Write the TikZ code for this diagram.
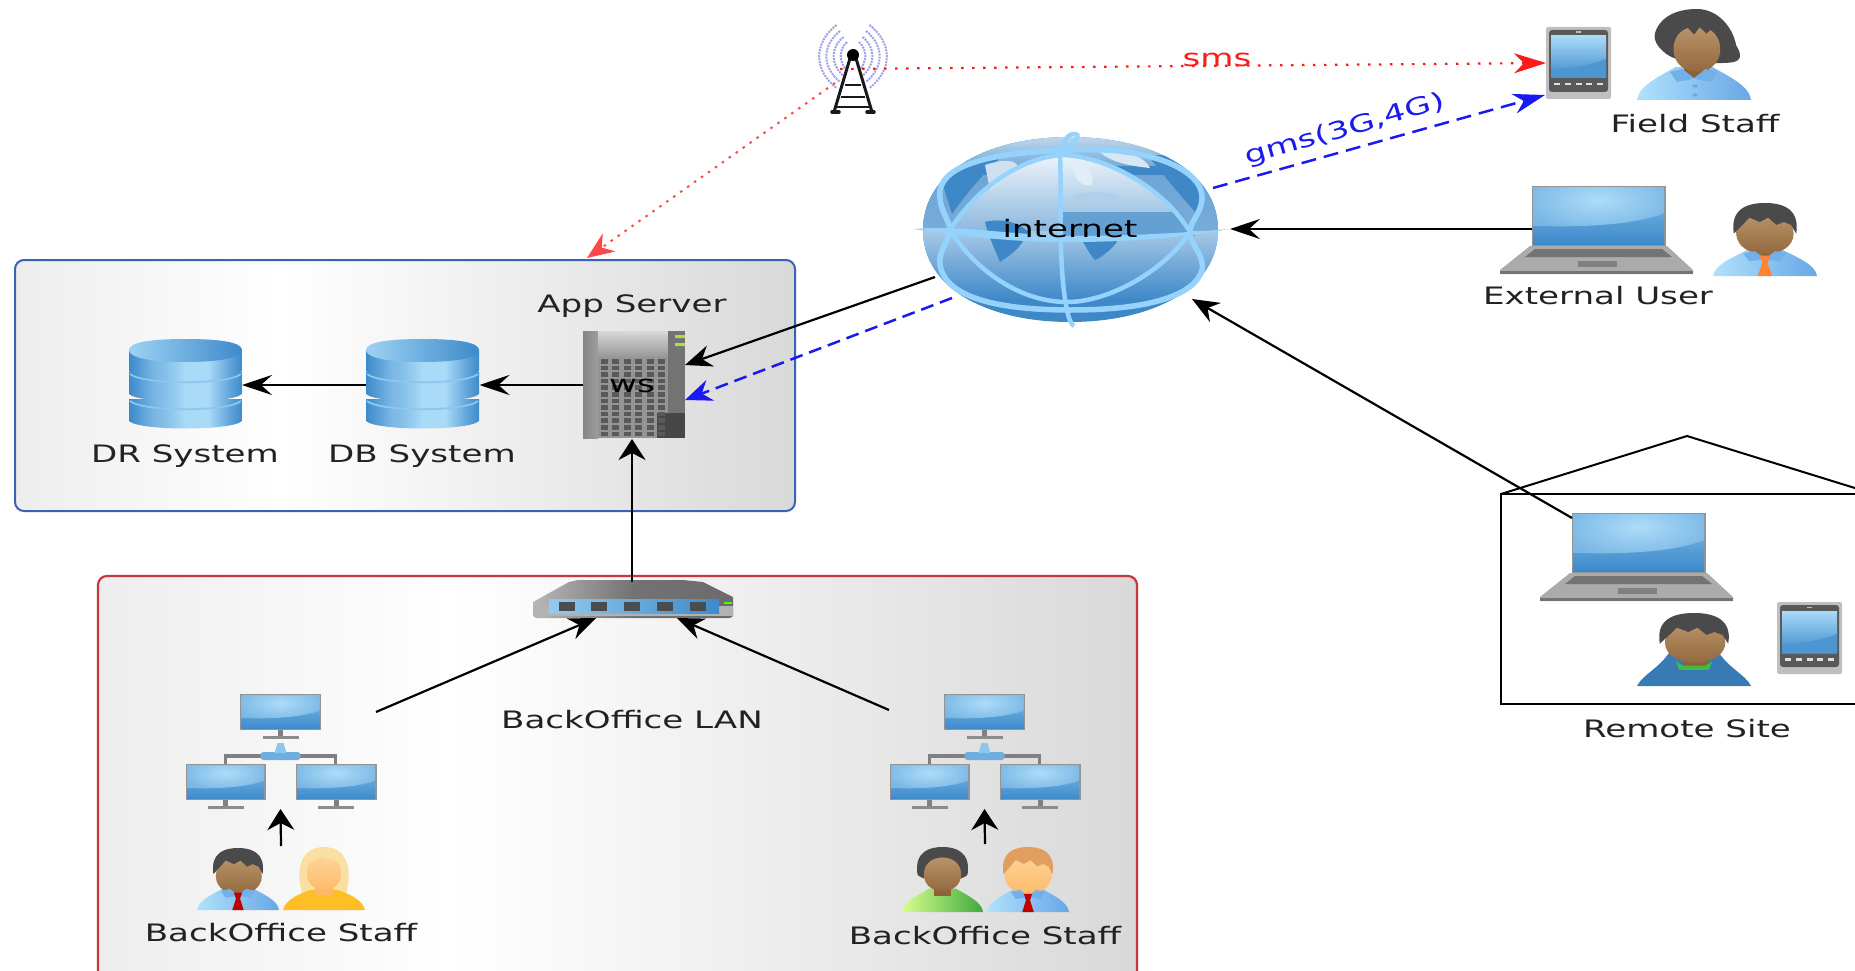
\documentclass[tikz,border=0pt]{standalone}
\usepackage{fontspec}
\setmainfont[FakeStretch=1.42]{DejaVu Sans}
\usetikzlibrary{arrows.meta}
\definecolor{scrTop}{HTML}{A9DAF8}
\definecolor{scrBot}{HTML}{3D8ACB}
\definecolor{hairDark}{HTML}{4A4A4A}
\definecolor{skinDT}{HTML}{BE9A70}
\definecolor{skinDB}{HTML}{8E6238}
\definecolor{skinLT}{HTML}{FFD79C}
\definecolor{skinLB}{HTML}{FDB765}
\definecolor{shirtL}{HTML}{B0E2FC}
\definecolor{shirtR}{HTML}{68A6E6}
\definecolor{gridBlue}{HTML}{96D3FC}
\definecolor{oceanBlue}{HTML}{3E88C8}
\definecolor{txtDark}{HTML}{222222}
\definecolor{blueEdge}{HTML}{3A62B0}
\definecolor{redEdge}{HTML}{C8363E}
\definecolor{netRed}{HTML}{FF1A1A}
\definecolor{netBlue}{HTML}{1A1AF0}
\definecolor{blondeHair}{HTML}{F9E0A2}
\definecolor{waveBlue}{HTML}{A0A0EA}
\pgfdeclarehorizontalshading{boxshade}{100bp}{color(0bp)=(black!7); color(25bp)=(black!7); color(42bp)=(white); color(75bp)=(black!15); color(100bp)=(black!15)}
\pgfdeclarehorizontalshading{cylshade}{100bp}{color(0bp)=(scrBot); color(25bp)=(scrBot); color(36bp)=(scrTop!55!scrBot); color(42bp)=(scrTop!70!scrBot); color(50bp)=(scrTop); color(60bp)=(scrTop); color(70bp)=(scrBot!70!scrTop); color(75bp)=(scrBot); color(100bp)=(scrBot)}
\pgfdeclarehorizontalshading{swshade}{100bp}{color(0bp)=(black!28); color(25bp)=(black!28); color(50bp)=(black!55); color(75bp)=(black!58); color(100bp)=(black!58)}
\tikzset{
  iconbox/.style={inner sep=0pt,outer sep=0pt,draw=none},
  lbl/.style={inner sep=0pt,outer sep=0pt,anchor=base,text=txtDark,font=\fontsize{24}{27}\selectfont},
  conn/.style={draw=black,line width=2.2pt,-{Stealth[length=30pt,width=20pt,inset=11pt]}},
  connV/.style={draw=black,line width=2.2pt,-{Stealth[length=21pt,width=27pt,inset=7pt]}},
  connD/.style={draw=black,line width=2.2pt,-{Stealth[length=27pt,width=22pt,inset=9pt]}},
  smsline/.style={draw=netRed,line width=2.2pt,dash pattern=on 2.5pt off 8.5pt,-{Stealth[length=32pt,width=20pt,inset=10pt]}},
  gmsline/.style={draw=netBlue,line width=2.5pt,dash pattern=on 15pt off 8pt,-{Stealth[length=32pt,width=20pt,inset=10pt]}},
  smsD/.style={draw=netRed!80!white,line width=2pt,dash pattern=on 2.5pt off 6pt,-{Stealth[length=27pt,width=22pt,inset=9pt]}},
  gmsD/.style={draw=netBlue,line width=2.5pt,dash pattern=on 13pt off 7pt,-{Stealth[length=27pt,width=22pt,inset=9pt]}},
}
% --- icon helpers, all in pixel units
\newcommand\screenAt[4]{% x1 y1 x2 y2
  \fill[black!42] (#1-1.5,#2-1.5) rectangle (#3+1.5,#4+1.5);
  \shade[top color=scrTop!65!scrBot,bottom color=scrBot] (#1,#2) rectangle (#3,#4);
  \begin{scope}
    \clip (#1,#2) -- (#3,#2) -- (#3,{#2+0.46*(#4-#2)}) .. controls ({#1+0.8*(#3-#1)},{#2+0.64*(#4-#2)}) and ({#1+0.45*(#3-#1)},{#2+0.72*(#4-#2)}) .. (#1,{#2+0.68*(#4-#2)}) -- cycle;
    \shade[inner color=scrTop!95!white,outer color=scrTop!55!scrBot] ({#1-0.1*(#3-#1)},{#2-0.35*(#4-#2)}) rectangle ({#3+0.1*(#3-#1)},{#2+0.8*(#4-#2)});
  \end{scope}
}
\newcommand\laptopAt[2]{%
  \begin{scope}[shift={(#1,#2)}]
    \screenAt{33}{1}{164}{58}
    \fill[black!33] (30,60) -- (167,60) -- (193,84) -- (193,88) -- (0,88) -- (0,84) -- cycle;
    \fill[black!55] (0,84.5) rectangle (193,88);
    \fill[black!55] (35,63) -- (162,63) -- (172,71) -- (25,71) -- cycle;
    \fill[black!50] (78,75) rectangle (117,81);
  \end{scope}}
\newcommand\tabletAt[2]{%
  \begin{scope}[shift={(#1,#2)}]
    \fill[black!25,rounded corners=2pt] (0,0) rectangle (65,72);
    \fill[black!65,rounded corners=3pt] (3,3) rectangle (62,65);
    \shade[top color=scrTop,bottom color=scrBot] (5,9) rectangle (60,51);
    \fill[scrBot!85!scrTop] (5,42) .. controls (25,42) and (45,38) .. (60,32) -- (60,51) -- (5,51) -- cycle;
    \foreach \bx in {11,22,32.5,43,54}{\fill[black!12] (\bx-3,56) rectangle (\bx+3,58.5);}
    \fill[black!25] (30,4.5) rectangle (35,6);
  \end{scope}}
\newcommand\monitorAt[3]{% left top width
  \begin{scope}[shift={(#1,#2)}]
    \screenAt{1.5}{1.5}{#3-1.5}{34.5}
    \fill[black!50] (#3/2-2.5,36) rectangle (#3/2+2.5,43);
    \fill[black!45] (#3/2-18,42) rectangle (#3/2+18,45);
  \end{scope}}
\newcommand\lanAt[1]{% centre x of the icon; top monitor at y 694
  \begin{scope}[shift={(#1,0)}]
    \draw[black!50,line width=3.5pt] (-55,764) -- (-55,756) -- (55,756) -- (55,764);
    \monitorAt{-40.5}{694}{81}
    \monitorAt{-95}{764}{80}
    \monitorAt{15}{764}{81}
    \fill[scrBot!55!scrTop,rounded corners=3pt] (-20,752) rectangle (20,760);
    \fill[scrBot!25!scrTop] (-3,743) -- (3,743) -- (6,753) -- (-6,753) -- cycle;
  \end{scope}}
\newcommand\dbAt[2]{% left top
  \begin{scope}[shift={(#1,#2)}]
    \foreach \ty in {54,27,4}{
      \shade[shading=cylshade] (0,\ty+6) -- (0,\ty+28) .. controls (10,\ty+38) and (103,\ty+38) .. (113,\ty+28) -- (113,\ty+6) -- cycle;
      \draw[scrTop!75!scrBot,line width=1.8pt] (1,\ty+8) .. controls (14,\ty+19) and (99,\ty+19) .. (112,\ty+8);
    }
    \shade[left color=scrTop!90!scrBot,right color=scrBot] (56.5,0) .. controls (90,0) and (113,3) .. (113,11) .. controls (113,19) and (90,23) .. (56.5,23) .. controls (23,23) and (0,19) .. (0,11) .. controls (0,3) and (23,0) .. (56.5,0) -- cycle;
  \end{scope}}
\newcommand\personAt[5]{% left-right centre, top, half width, height, content
  \begin{scope}[shift={(#1,#2)},xscale=#3,yscale=#4]#5\end{scope}}
\newcommand\bodyShape[2]{%
  \shade[left color=#1,right color=#2] (-1,1) .. controls (-.97,.84) and (-.6,.74) .. (-.33,.64) -- (.33,.64) .. controls (.6,.74) and (.97,.84) .. (1,1) -- cycle;}
\newcommand\collarShape{%
  \fill[shirtR!85!shirtL] (-.42,.69) -- (-.2,.66) -- (0,.76) -- (.2,.66) -- (.42,.69) -- (.3,.8) -- (.1,.78) -- (0,.76) -- (-.1,.78) -- (-.3,.8) -- cycle;}
\newcommand\neckFace[6]{% cx cy rx ry top bottom
  \fill[#6] (#1-.22,#2+.1) rectangle (#1+.22,.76);
  \shade[top color=#5,bottom color=#6] (#1-#3,#2) .. controls (#1-#3,{#2-#4*1.33}) and (#1+#3,{#2-#4*1.33}) .. (#1+#3,#2) .. controls (#1+#3,{#2+#4*1.33}) and (#1-#3,{#2+#4*1.33}) .. (#1-#3,#2) -- cycle;}
\newcommand\hairCap[1]{%
  \fill[#1] (-.6,.42) .. controls (-.68,.06) and (-.3,0) .. (0,0) .. controls (.3,0) and (.68,.06) .. (.6,.42) -- (.5,.3) -- (.36,.26) -- (.22,.3) -- (.06,.2) -- (-.1,.26) -- (-.3,.2) -- (-.46,.32) -- cycle;}
\newcommand\tieShape[1]{%
  \fill[#1] (-.1,.72) -- (.1,.72) -- (.05,.82) -- (.14,1) -- (-.14,1) -- (-.05,.82) -- cycle;}
\begin{document}
\begin{tikzpicture}[x=1pt,y=-1pt]
\useasboundingbox (0,0) rectangle (1855,971);
\clip (0,0) rectangle (1855,971);
\fill[white] (0,0) rectangle (1855,971);

% containers
\path[shading=boxshade,draw=blueEdge,line width=2pt,rounded corners=9pt] (15,260) rectangle (795,511);
\path[shading=boxshade,draw=redEdge,line width=2.2pt,rounded corners=9pt] (98,576) rectangle (1137,1010);
\node[iconbox,minimum width=780pt,minimum height=251pt] (appzone) at (405,385.5) {};
\node[iconbox,minimum width=1039pt,minimum height=395pt] (lanzone) at (617.5,773.5) {};

% remote site house
\draw[black,line width=2.2pt] (1900,494) -- (1501,494) -- (1501,704) -- (1900,704);
\draw[black,line width=2pt] (1501,494) -- (1687,436) -- (1900,502);

% ----- tower
\begin{scope}[shift={(853,55)}]
  \foreach \r/\w in {12/13,19/18,26/24,33/30}{
    \draw[waveBlue,line width=2pt,dash pattern=on 2pt off 1pt] (-\r*0.5,-\w) .. controls (-\r*1.2,-\w*0.4) and (-\r*1.2,\w*0.5) .. (-\r*0.5,\w+3);
    \draw[waveBlue,line width=2pt,dash pattern=on 2pt off 1pt] (\r*0.5,-\w) .. controls (\r*1.2,-\w*0.4) and (\r*1.2,\w*0.5) .. (\r*0.5,\w+3);
  }
  \draw[black!90,line width=3pt] (-19,57) -- (-2,0) (19,57) -- (2,0);
  \draw[black!90,line width=2.6pt] (-8,30) -- (8,30) (-12,42) -- (12,42) (-17,52) -- (17,52);
  \draw[black!90,line width=3.5pt,line cap=round] (-21,57) -- (-14,57) (14,57) -- (21,57);
  \fill[black] (0,0) circle [radius=6];
\end{scope}
\node[iconbox,minimum width=65pt,minimum height=90pt] (tower) at (854,69) {};
\coordinate (towerE) at (840,69);
\coordinate (towerW) at (835,83);

% ----- globe
\begin{scope}
  \path[clip] (1070,137) .. controls (1150,137) and (1218,170) .. (1218,230) .. controls (1218,290) and (1150,322) .. (1070,322) .. controls (990,322) and (923,290) .. (923,230) .. controls (923,170) and (990,137) .. (1070,137) -- cycle;
  \fill[oceanBlue] (900,130) rectangle (1240,330);
  \shade[top color=oceanBlue!45!white,bottom color=oceanBlue] (900,230) rectangle (1240,300);
  \shade[top color=oceanBlue!75!white,bottom color=oceanBlue!70!white] (900,175) rectangle (1240,230);
  \shade[top color=white!75!oceanBlue,bottom color=oceanBlue!70!white] (960,130) rectangle (1190,165);
  \shade[top color=white!90!oceanBlue,bottom color=oceanBlue!60!white] (950,230) .. controls (975,190) and (1020,157) .. (1063,155) .. controls (1110,157) and (1165,190) .. (1190,232) -- cycle;
  % seas at the corners
  \fill[oceanBlue] (1148,156) .. controls (1180,150) and (1206,175) .. (1198,215) .. controls (1175,190) and (1160,170) .. (1148,156) -- cycle;
  \fill[oceanBlue] (942,182) .. controls (960,160) and (985,154) .. (1002,156) .. controls (985,172) and (965,195) .. (952,214) -- cycle;
  % land and sea details
  \fill[white!75!oceanBlue] (985,165) .. controls (1005,158) and (1020,160) .. (1018,170) .. controls (1005,176) and (1000,188) .. (990,190) -- cycle;
  \fill[white!85!oceanBlue] (1072,160) .. controls (1085,163) and (1095,170) .. (1092,185) .. controls (1080,187) and (1072,178) .. (1072,160) -- cycle;
  \fill[white!60!oceanBlue] (1070,196) .. controls (1090,190) and (1115,190) .. (1125,200) .. controls (1105,206) and (1085,205) .. (1070,196) -- cycle;
  \fill[white!80!oceanBlue] (1100,152) .. controls (1130,150) and (1145,158) .. (1150,168) .. controls (1130,166) and (1110,162) .. (1100,152) -- cycle;
  \fill[oceanBlue] (985,222) .. controls (1000,218) and (1020,222) .. (1028,232) .. controls (1020,250) and (1010,255) .. (1000,262) .. controls (995,250) and (988,235) .. (985,222) -- cycle;
  \fill[oceanBlue] (1082,240) -- (1118,240) .. controls (1112,250) and (1100,258) .. (1095,260) .. controls (1090,255) and (1085,245) .. (1082,240) -- cycle;
  \fill[oceanBlue!80!white] (1062,212) -- (1180,212) -- (1195,236) -- (1062,236) -- cycle;
\end{scope}
\begin{scope}[gridBlue,line width=5.5pt]
  \draw (1071,150) .. controls (1150,146) and (1205,170) .. (1202,200) .. controls (1200,215) and (1190,222) .. (1190,232) .. controls (1190,245) and (1205,255) .. (1202,270) .. controls (1195,295) and (1150,310) .. (1071,310) .. controls (990,310) and (945,295) .. (940,265) .. controls (938,250) and (950,240) .. (950,230) .. controls (950,220) and (938,210) .. (940,190) .. controls (945,165) and (990,152) .. (1071,150) -- cycle;
\end{scope}
\begin{scope}[gridBlue,line width=4.5pt]
  \draw (950,230) .. controls (975,190) and (1020,157) .. (1063,155) .. controls (1110,157) and (1165,190) .. (1190,232) .. controls (1165,270) and (1110,302) .. (1067,302) .. controls (1020,302) and (975,270) .. (950,230) -- cycle;
  \draw (1060,155) .. controls (1062,200) and (1058,260) .. (1066,305) .. controls (1068,318) and (1072,326) .. (1074,326);
  \draw (1060,155) .. controls (1062,142) and (1068,133) .. (1075,134) .. controls (1080,134) and (1078,140) .. (1065,150);
\end{scope}
\fill[gridBlue] (913,229) .. controls (960,225) and (1000,234) .. (1070,236) .. controls (1130,236) and (1180,233) .. (1230,229) .. controls (1180,238) and (1130,242) .. (1070,242) .. controls (1000,242) and (960,235) .. (913,229) -- cycle;
\node[iconbox,minimum width=317pt,minimum height=196pt] (globe) at (1071.5,229) {};
\coordinate (globeSMS) at (1213,188);
\coordinate (globeOut) at (935,277);
\coordinate (globeGms) at (952,298);
\coordinate (globeSE) at (1192,299);

% ----- tablets
\tabletAt{1546}{27}
\node[iconbox,minimum width=65pt,minimum height=72pt] (fieldtab) at (1578.5,63) {};
\coordinate (fieldtabSW) at (1545,95);
\tabletAt{1777}{602}
\node[iconbox,minimum width=65pt,minimum height=72pt] (remotetab) at (1809.5,638) {};

% ----- laptops
\laptopAt{1500}{186}
\node[iconbox,minimum width=193pt,minimum height=88pt] (extlaptop) at (1596.5,230) {};
\coordinate (extlaptopL) at (1532,229);
\laptopAt{1540}{513}
\node[iconbox,minimum width=193pt,minimum height=88pt] (remlaptop) at (1636.5,557) {};
\coordinate (remlaptopNW) at (1572,518);

% ----- people
% field staff (woman, bob)
\personAt{1694}{9}{57}{91}{%
  \fill[hairDark] (.05,0) .. controls (.42,0) and (.68,.2) .. (.74,.4) .. controls (.84,.5) and (.85,.58) .. (.62,.59) .. controls (.3,.6) and (-.3,.62) .. (-.55,.46) .. controls (-.76,.34) and (-.7,.25) .. (-.6,.16) .. controls (-.45,.04) and (-.2,0) .. (.05,0) -- cycle;
  \bodyShape{shirtL}{shirtR}
  \neckFace{.05}{.44}{.41}{.25}{skinDT}{skinDB}
  \collarShape
  \fill[hairDark] (-.38,.34) .. controls (-.42,.12) and (.5,.12) .. (.46,.32) -- (.34,.2) -- (.22,.27) -- (.1,.2) -- (0,.28) -- (-.12,.2) -- (-.25,.24) -- cycle;
  \fill[shirtR] (-.02,.83) rectangle (.06,.86) (-.02,.93) rectangle (.06,.96);
}
\node[iconbox,minimum width=114pt,minimum height=91pt] (fieldperson) at (1694,54.5) {};
% external user
\personAt{1765}{203}{52}{73}{%
  \bodyShape{shirtL}{shirtR}
  \neckFace{0}{.42}{.55}{.28}{skinDT}{skinDB}
  \collarShape
  \hairCap{hairDark}
  \tieShape{orange!80!red!80!white}
}
\node[iconbox,minimum width=104pt,minimum height=73pt] (extperson) at (1765,239.5) {};
% remote user (hoodie)
\personAt{1694}{613}{57}{73}{%
  \fill[oceanBlue!90!black] (-1,1) .. controls (-.9,.84) and (-.6,.76) .. (-.4,.5) -- (.4,.5) .. controls (.6,.76) and (.9,.84) .. (1,1) -- cycle;
  \neckFace{.02}{.4}{.53}{.28}{skinDT}{skinDB}
  \fill[green!65!black!75] (-.32,.66) -- (-.2,.72) -- (.2,.72) -- (.32,.66) -- (.26,.78) -- (-.26,.78) -- cycle;
  \hairCap{hairDark}
}
\node[iconbox,minimum width=114pt,minimum height=73pt] (remperson) at (1694,649.5) {};
% LAN left group
\lanAt{280.5}
\node[iconbox,minimum width=191pt,minimum height=113pt] (lanleft) at (281.5,750.5) {};
\coordinate (lanleftOut) at (376,712);
\coordinate (lanleftIn) at (280.5,809);
\personAt{238}{848}{41}{62}{%
  \bodyShape{shirtL}{shirtR}
  \neckFace{.02}{.45}{.56}{.3}{skinDT}{skinDB}
  \collarShape
  \hairCap{hairDark}
  \tieShape{red!75!black}
}
\personAt{324}{847}{41}{63}{%
  \fill[blondeHair] (-.5,.8) .. controls (-.72,.4) and (-.6,0) .. (0,0) .. controls (.6,0) and (.72,.4) .. (.5,.8) -- cycle;
  \fill[orange!60!yellow!85!white] (-1,1) .. controls (-.95,.84) and (-.6,.74) .. (-.33,.68) -- (.33,.68) .. controls (.6,.74) and (.95,.84) .. (1,1) -- cycle;
  \neckFace{0}{.42}{.42}{.26}{skinLT}{skinLB}
  \fill[blondeHair] (-.44,.28) .. controls (-.3,.05) and (.3,.05) .. (.44,.28) -- (.3,.16) -- (.08,.2) -- (-.06,.14) -- (-.25,.2) -- cycle;
}
\node[iconbox,minimum width=168pt,minimum height=63pt] (staffleft) at (281,878.5) {};
\coordinate (staffleftTop) at (281,846);
% LAN right group
\lanAt{984.5}
\node[iconbox,minimum width=191pt,minimum height=113pt] (lanright) at (985.5,750.5) {};
\coordinate (lanrightOut) at (889,710);
\coordinate (lanrightIn) at (984.5,809);
\personAt{942.5}{847}{40.5}{65}{%
  \fill[hairDark] (-.62,.42) .. controls (-.7,.06) and (-.3,0) .. (0,0) .. controls (.3,0) and (.7,.06) .. (.62,.42) .. controls (.5,.55) and (-.5,.55) .. (-.62,.42) -- cycle;
  \shade[left color=green!35!yellow!45!white,right color=green!55!black!75] (-1,1) .. controls (-.97,.84) and (-.6,.74) .. (-.33,.64) -- (.33,.64) .. controls (.6,.74) and (.97,.84) .. (1,1) -- cycle;
  \neckFace{0}{.42}{.46}{.26}{skinDT}{skinDB}
}
\personAt{1028}{847}{41}{65}{%
  \bodyShape{shirtL}{shirtR}
  \neckFace{0}{.42}{.58}{.3}{skinLT}{skinLB}
  \collarShape
  \hairCap{orange!35!brown!75!white}
  \tieShape{red!75!black}
}
\node[iconbox,minimum width=167pt,minimum height=65pt] (staffright) at (985.5,879.5) {};
\coordinate (staffrightTop) at (985,844);

% ----- databases
\dbAt{129}{339}
\node[iconbox,minimum width=113pt,minimum height=90pt] (dr) at (185.5,385) {};
\dbAt{366}{339}
\node[iconbox,minimum width=114pt,minimum height=90pt] (db) at (422.5,385) {};

% ----- server
\begin{scope}[shift={(583,331)}]
  \fill[black!42] (0,0) rectangle (102,107);
  \shade[left color=black!48,right color=black!38] (0,0) rectangle (15,107);
  \shade[top color=black!15,bottom color=black!42] (15,0) rectangle (85,27);
  \fill[black!55] (85,0) rectangle (102,107);
  \fill[black!72] (74,82) rectangle (102,107);
  \foreach \cx in {0,...,5}{\foreach \cy in {0,...,11}{
    \fill[black!65] ({18+\cx*11.4},{28+\cy*6.6}) rectangle ({25+\cx*11.4},{32.5+\cy*6.6});
  }}
  \fill[yellow!60!green!80!white] (92,4) rectangle (102,7) (92,12) rectangle (102,15);
\end{scope}
\node[iconbox,minimum width=102pt,minimum height=107pt] (server) at (634,384.5) {};
\coordinate (serverW) at (583,385);
\coordinate (serverS) at (632,439);
\coordinate (serverNE) at (685,365);
\coordinate (serverE) at (685,400);

% ----- switch
\begin{scope}[shift={(533,580)}]
  \shade[shading=swshade] (0,22) -- (36,2) -- (45,0) -- (150,0) -- (170,2) -- (200,17) -- (200,36) -- (197,38) -- (3,38) -- (0,36) -- cycle;
  \fill[black!30] (0,26) rectangle (200,36);
  \shade[left color=scrTop!80!scrBot,right color=scrBot] (16,19) rectangle (186,33);
  \foreach \px in {34,66,99,132,165}{\fill[black!70] (\px-8,21.5) rectangle (\px+8,31);}
  \fill[green!70!yellow] (191,22) rectangle (199,24);
\end{scope}
\node[iconbox,minimum width=200pt,minimum height=38pt] (switch) at (633,599) {};
\coordinate (switchTop) at (632,582);
\coordinate (switchBL) at (596,618);
\coordinate (switchBR) at (677,618);
\coordinate (appzoneTop) at (587,258);

% ----- connectors
\path[smsline,draw] (towerE) -- (fieldtab.west);
\path[smsD,draw] (towerW) -- (appzoneTop);
\path[gmsline,draw] (globeSMS) -- (fieldtabSW);
\path[conn,draw] (extlaptopL) -- (globe.east);
\path[connD,draw] (remlaptopNW) -- (globeSE);
\path[connD,draw] (globeOut) -- (serverNE);
\path[gmsD,draw] (globeGms) -- (serverE);
\path[conn,draw] (serverW) -- (db.east);
\path[conn,draw] (db.west) -- (dr.east);
\path[connV,draw] (switchTop) -- (serverS);
\path[connD,draw] (lanleftOut) -- (switchBL);
\path[connD,draw] (lanrightOut) -- (switchBR);
\path[connV,draw] (staffleftTop) -- (lanleftIn);
\path[connV,draw] (staffrightTop) -- (lanrightIn);

% ----- labels
\node[lbl,text=netRed] (smslabel) at (1217,67) {sms};
\node[lbl,text=netBlue,anchor=center,rotate=16] (gmslabel) at (1345,130) {gms(3G,4G)};
\node[lbl,text=black] (internetlabel) at (1070,237) {internet};
\node[lbl] (fieldlabel) at (1695,132) {Field Staff};
\node[lbl] (extlabel) at (1598,304) {External User};
\node[lbl] (remotelabel) at (1687,737) {Remote Site};
\node[lbl] (applabel) at (632,312) {App Server};
\node[lbl,text=black] (wslabel) at (632,392) {ws};
\node[lbl] (dblabel) at (422,462) {DB System};
\node[lbl] (drlabel) at (185,462) {DR System};
\node[lbl] (lanlabel) at (632,728) {BackOffice LAN};
\node[lbl] (stafflabelL) at (281,941) {BackOffice Staff};
\node[lbl] (stafflabelR) at (985,944) {BackOffice Staff};
\end{tikzpicture}
\end{document}
